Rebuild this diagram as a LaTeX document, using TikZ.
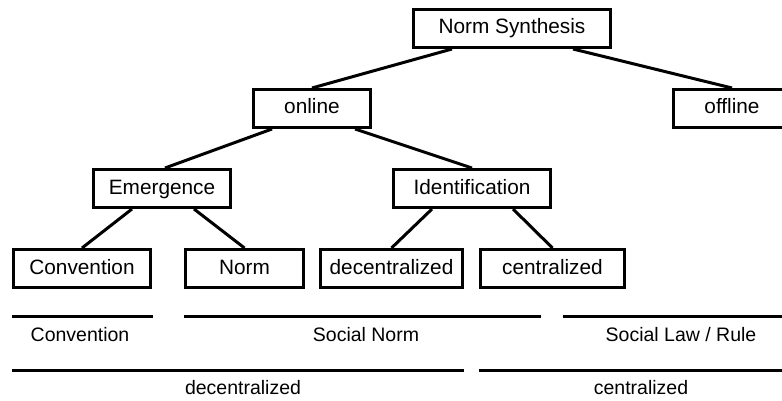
\documentclass[tikz,border=0pt]{standalone}
\usepackage{fontspec}
\setmainfont{Liberation Sans}
\usetikzlibrary{calc}
\begin{document}
\begin{tikzpicture}[x=1pt,y=-1pt,
  box/.style={draw,line width=3pt,inner sep=0pt,minimum height=38pt,
    text height=15pt,text depth=4pt,
    font=\fontsize{20.8}{25}\selectfont},
  edge/.style={line width=3pt},
  rule/.style={line width=3pt},
  caption/.style={inner sep=0pt,text height=14pt,text depth=4pt,
    font=\fontsize{19.5}{23}\selectfont}]
\useasboundingbox (0,0) rectangle (782,401);
\clip (0,0) rectangle (782,401);

% taxonomy boxes
\node[box,minimum width=197pt] (ns)  at (512,28.5)   {Norm Synthesis};
\node[box,minimum width=117pt] (on)  at (312,108.5)  {online};
\node[box,minimum width=117pt] (off) at (732,108.5)  {offline};
\node[box,minimum width=137pt] (em)  at (162,188.5)  {Emergence};
\node[box,minimum width=157pt] (id)  at (472,188.5)  {Identification};
\node[box,minimum width=137pt] (cv)  at (82,268.5)   {Convention};
\node[box,minimum width=118pt] (nm)  at (244.5,268.5) {Norm};
\node[box,minimum width=142pt] (dc)  at (391.5,268.5) {decentralized};
\node[box,minimum width=144pt] (ce)  at (552.5,268.5) {centralized};

% tree edges
\draw[edge] ($(ns.south)+(-60,0)$) -- (on.north);
\draw[edge] ($(ns.south)+(61,0)$)  -- (off.north);
\draw[edge] ($(on.south)+(-40,0)$) -- ($(em.north)+(3,0)$);
\draw[edge] ($(on.south)+(43,0)$)  -- (id.north);
\draw[edge] ($(em.south)+(-30,0)$) -- (cv.north);
\draw[edge] ($(em.south)+(32,0)$)  -- (nm.north);
\draw[edge] ($(id.south)+(-40,0)$) -- (dc.north);
\draw[edge] ($(id.south)+(41,0)$)  -- (ce.north);

% classification bands
\coordinate (a1) at (12,316);  \coordinate (a2) at (153,316);
\coordinate (b1) at (184,316); \coordinate (b2) at (541,316);
\coordinate (c1) at (563,316); \coordinate (c2) at (790,316);
\coordinate (d1) at (12,370);  \coordinate (d2) at (464,370);
\coordinate (e1) at (479,370); \coordinate (e2) at (790,370);
\draw[rule] (a1) -- (a2);
\draw[rule] (b1) -- (b2);
\draw[rule] (c1) -- (c2);
\draw[rule] (d1) -- (d2);
\draw[rule] (e1) -- (e2);

\node[caption] (lconv) at (80,336)  {Convention};
\node[caption] (lsn)   at (366,336) {Social Norm};
\node[caption] (lslr)  at (681,336) {Social Law / Rule};
\node[caption] (ldec)  at (243,389) {decentralized};
\node[caption] (lcen)  at (641,389) {centralized};
\end{tikzpicture}
\end{document}
